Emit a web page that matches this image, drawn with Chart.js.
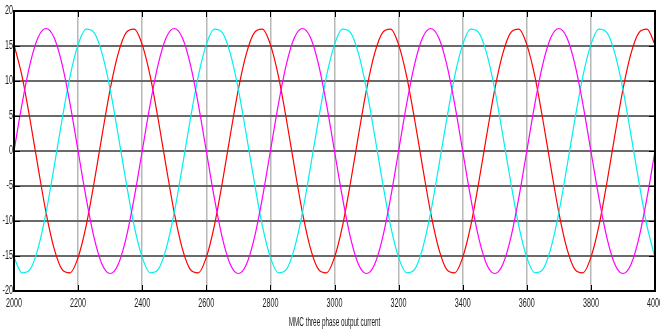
<!DOCTYPE html>
<html>
<head>
<meta charset="utf-8">
<script src="https://cdn.jsdelivr.net/npm/chart.js@4/dist/chart.umd.min.js"></script>
<style>
  html, body { margin: 0; padding: 0; background: #ffffff; }
  #wrap { width: 660px; height: 331px; position: relative; }
</style>
</head>
<body>
<div id="wrap"><canvas id="c" width="660" height="331"></canvas></div>
<script>
// Sample positions (x axis)
const sampleX = [
  2000,2025,2050,2075,2100,2125,2150,2175,2200,2225,2250,2275,2300,2325,2350,2375,
  2400,2425,2450,2475,2500,2525,2550,2575,2600,2625,2650,2675,2700,2725,2750,2775,
  2800,2825,2850,2875,2900,2925,2950,2975,3000,3025,3050,3075,3100,3125,3150,3175,
  3200,3225,3250,3275,3300,3325,3350,3375,3400,3425,3450,3475,3500,3525,3550,3575,
  3600,3625,3650,3675,3700,3725,3750,3775,3800,3825,3850,3875,3900,3925,3950,3975,
  4000
];
// Phase currents
const phaseRed = [
  15.2,10.7,4.5,-2.3,-8.8,-13.9,-16.9,-17.4,-15.2,-10.7,-4.5,2.3,8.8,13.9,16.9,17.4,
  15.2,10.7,4.5,-2.3,-8.8,-13.9,-16.9,-17.4,-15.2,-10.7,-4.5,2.3,8.8,13.9,16.9,17.4,
  15.2,10.7,4.5,-2.3,-8.8,-13.9,-16.9,-17.4,-15.2,-10.7,-4.5,2.3,8.8,13.9,16.9,17.4,
  15.2,10.7,4.5,-2.3,-8.8,-13.9,-16.9,-17.4,-15.2,-10.7,-4.5,2.3,8.8,13.9,16.9,17.4,
  15.2,10.7,4.5,-2.3,-8.8,-13.9,-16.9,-17.4,-15.2,-10.7,-4.5,2.3,8.8,13.9,16.9,17.4,
  15.2
];
const phaseMagenta = [
  0,6.7,12.4,16.2,17.5,16.2,12.4,6.7,0,-6.7,-12.4,-16.2,-17.5,-16.2,-12.4,-6.7,
  0,6.7,12.4,16.2,17.5,16.2,12.4,6.7,0,-6.7,-12.4,-16.2,-17.5,-16.2,-12.4,-6.7,
  0,6.7,12.4,16.2,17.5,16.2,12.4,6.7,0,-6.7,-12.4,-16.2,-17.5,-16.2,-12.4,-6.7,
  0,6.7,12.4,16.2,17.5,16.2,12.4,6.7,0,-6.7,-12.4,-16.2,-17.5,-16.2,-12.4,-6.7,
  0,6.7,12.4,16.2,17.5,16.2,12.4,6.7,0,-6.7,-12.4,-16.2,-17.5,-16.2,-12.4,-6.7,
  0
];
const phaseCyan = [
  -15.2,-17.4,-16.9,-13.9,-8.8,-2.3,4.5,10.7,15.2,17.4,16.9,13.9,8.8,2.3,-4.5,-10.7,
  -15.2,-17.4,-16.9,-13.9,-8.8,-2.3,4.5,10.7,15.2,17.4,16.9,13.9,8.8,2.3,-4.5,-10.7,
  -15.2,-17.4,-16.9,-13.9,-8.8,-2.3,4.5,10.7,15.2,17.4,16.9,13.9,8.8,2.3,-4.5,-10.7,
  -15.2,-17.4,-16.9,-13.9,-8.8,-2.3,4.5,10.7,15.2,17.4,16.9,13.9,8.8,2.3,-4.5,-10.7,
  -15.2,-17.4,-16.9,-13.9,-8.8,-2.3,4.5,10.7,15.2,17.4,16.9,13.9,8.8,2.3,-4.5,-10.7,
  -15.2
];
const xTicks = [2000,2200,2400,2600,2800,3000,3200,3400,3600,3800,4000];
const yTicks = [-20,-15,-10,-5,0,5,10,15,20];
const xTitle = 'MMC three phase output current';

const FONT = '"Liberation Sans", Arial, sans-serif';

function pts(ys) { return sampleX.map((x, i) => ({ x: x, y: ys[i] })); }

function narrowText(ctx, text, x, y, align, size, squeeze) {
  ctx.save();
  ctx.translate(x, y);
  ctx.scale(squeeze, 1);
  ctx.font = size + 'px ' + FONT;
  ctx.textAlign = align;
  ctx.textBaseline = 'middle';
  ctx.fillText(text, 0, 0);
  ctx.restore();
}

const framePlugin = {
  id: 'frame',
  afterDatasetsDraw(chart) {
    const ctx = chart.ctx, a = chart.chartArea;
    const xs = chart.scales.x, ys = chart.scales.y;
    ctx.save();
    ctx.strokeStyle = '#000';
    ctx.lineWidth = 1;
    // inward ticks
    xTicks.forEach(v => {
      const px = Math.round(xs.getPixelForValue(v)) + 0.5;
      ctx.beginPath();
      ctx.moveTo(px, a.bottom); ctx.lineTo(px, a.bottom - 6);
      ctx.moveTo(px, a.top); ctx.lineTo(px, a.top + 6);
      ctx.stroke();
    });
    yTicks.forEach(v => {
      const py = Math.round(ys.getPixelForValue(v)) + 0.5;
      ctx.beginPath();
      ctx.moveTo(a.left, py); ctx.lineTo(a.left + 6, py);
      ctx.moveTo(a.right, py); ctx.lineTo(a.right - 6, py);
      ctx.stroke();
    });
    ctx.lineWidth = 2;
    ctx.strokeRect(a.left, a.top, a.right - a.left, a.bottom - a.top);

    // tick labels and axis title (condensed, as in the original)
    ctx.fillStyle = '#1a1a1a';
    xTicks.forEach(v => {
      narrowText(ctx, String(v), xs.getPixelForValue(v), a.bottom + 13, 'center', 12, 0.6);
    });
    yTicks.forEach(v => {
      narrowText(ctx, String(v), a.left - 1, ys.getPixelForValue(v), 'right', 12, 0.6);
    });
    narrowText(ctx, xTitle, (a.left + a.right) / 2, a.bottom + 32, 'center', 12, 0.53);
    ctx.restore();
  }
};

new Chart(document.getElementById('c'), {
  type: 'line',
  data: {
    datasets: [
      { data: pts(phaseMagenta), borderColor: '#ff00ff', borderWidth: 1.2, pointRadius: 0, cubicInterpolationMode: 'monotone', fill: false },
      { data: pts(phaseCyan), borderColor: '#00f0f0', borderWidth: 1.2, pointRadius: 0, cubicInterpolationMode: 'monotone', fill: false },
      { data: pts(phaseRed), borderColor: '#ff0000', borderWidth: 1.2, pointRadius: 0, cubicInterpolationMode: 'monotone', fill: false }
    ]
  },
  options: {
    responsive: false,
    animation: false,
    events: [],
    layout: { padding: { top: 11, right: 5, left: 0, bottom: 0 } },
    plugins: { legend: { display: false }, tooltip: { enabled: false } },
    scales: {
      x: {
        type: 'linear',
        min: 2000, max: 4000,
        afterBuildTicks(s) { s.ticks = xTicks.map(v => ({ value: v })); },
        afterFit(s) { s.height = 40; },
        grid: { color: '#b8b8b8', lineWidth: 1.5, drawTicks: false },
        border: { display: false },
        ticks: { display: false }
      },
      y: {
        type: 'linear',
        min: -20, max: 20,
        afterBuildTicks(s) { s.ticks = yTicks.map(v => ({ value: v })); },
        afterFit(s) { s.width = 14; },
        grid: { color: '#6a6a6a', lineWidth: 2, drawTicks: false },
        border: { display: false },
        ticks: { display: false }
      }
    }
  },
  plugins: [framePlugin]
});
</script>
</body>
</html>
